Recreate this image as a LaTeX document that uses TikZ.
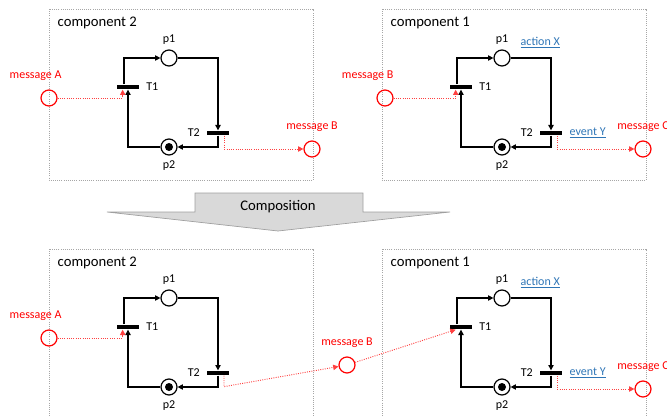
\documentclass[tikz,border=0pt]{standalone}
\usepackage{fontspec}
\setmainfont{Carlito}
\usepackage{xcolor}
\usetikzlibrary{arrows.meta}

\definecolor{linkblue}{RGB}{46,117,182}

\tikzset{
	box/.style={draw=gray!70, densely dotted, line width=0.6pt},
	title/.style={anchor=west, font=\fontsize{11}{13}\selectfont},
	place/.style={circle, draw, line width=0.9pt, minimum size=12pt, inner sep=0pt},
	marked/.style={place, path picture={\fill (path picture bounding box.center) circle (3pt);}},
	trans/.style={rectangle, fill=black, minimum width=16pt, minimum height=3.6pt, inner sep=0pt},
	flow/.style={draw, line width=0.8pt, -{Triangle[length=4pt,width=4pt]}},
	msg/.style={circle, draw=red, line width=0.9pt, minimum size=12pt, inner sep=0pt},
	msgtext/.style={text=red, label distance=3pt},
	msgflow/.style={draw=red!75, densely dotted, line width=0.7pt, -{Triangle[length=4pt,width=4pt]}},
	act/.style={anchor=west, text=linkblue}
}

\begin{document}
\begin{tikzpicture}[x=0.75pt, y=-0.75pt, font=\fontsize{9}{11}\selectfont]
	\useasboundingbox (0,0) rectangle (667,417);
	
	\foreach \nm/\dx/\dy/\num in {a/0/0/2, b/333/0/1, c/0/240/2, d/333/240/1} {
		\begin{scope}[shift={(\dx,\dy)}]
			\draw[box] (49,9) rectangle (313,180);
			\node[title] (\nm-name) at (53,23) {component \num};
			\node[place, label=above:p1] (\nm-p1) at (169,58) {};
			\node[trans, label={[label distance=2pt]right:T1}] (\nm-t1) at (128,87) {};
			\node[trans, label={[label distance=2pt]left:T2}] (\nm-t2) at (218,133) {};
			\node[marked, label=below:p2] (\nm-p2) at (169,147) {};
			\draw[flow] ([xshift=-3pt]\nm-t1.north) |- (\nm-p1);
			\draw[flow] (\nm-p1) -| (\nm-t2);
			\draw[flow] (\nm-t2) |- (\nm-p2);
			\draw[flow] (\nm-p2) -| (\nm-t1);
		\end{scope}
	}
	
	\foreach \nm/\dy in {b/0, d/240} {
		\node[act] (\nm-act) at (516,43+\dy) {\underline{action X}};
		\node[act] (\nm-evt) at (565,133+\dy) {\underline{event Y}};
	}
	
	\node[msg, label={[msgtext, xshift=-10pt]above:message A}] (a-in) at (49,98) {};
	\node[msg, label={[msgtext]above:message B}] (a-out) at (312,149) {};
	\node[msg, label={[msgtext, xshift=-13pt]above:message B}] (b-in) at (385,98) {};
	\node[msg, label={[msgtext]above:message C}] (b-out) at (643,149) {};
	\node[msg, label={[msgtext, xshift=-10pt]above:message A}] (c-in) at (49,338) {};
	\node[msg, label={[msgtext]above:message B}] (c-d) at (347,365) {};
	\node[msg, label={[msgtext]above:message C}] (d-out) at (643,389) {};
	
	\draw[msgflow] (a-in) -| ([xshift=-4pt]a-t1.south);
	\draw[msgflow] ([xshift=4.5pt]a-t2.south) |- (a-out);
	\draw[msgflow] (b-in) -| ([xshift=-4pt]b-t1.south);
	\draw[msgflow] ([xshift=4.5pt]b-t2.south) |- (b-out);
	\draw[msgflow] (c-in) -| ([xshift=-4pt]c-t1.south);
	\draw[msgflow] ([xshift=4.5pt]c-t2.south) -- ++(0,11) -- (c-d);
	\draw[msgflow] (c-d) -- ([xshift=-4pt]d-t1.south);
	\draw[msgflow] ([xshift=4.5pt]d-t2.south) |- (d-out);
	
	\draw[fill=gray!30, draw=gray!75, line width=0.5pt] (195,193) -- (363,193) -- (363,212) -- (450,212) -- (278,231) -- (107,212) -- (195,212) -- cycle;
	\node[font=\fontsize{11}{13}\selectfont] (compose) at (278,207) {Composition};
\end{tikzpicture}
\end{document}
